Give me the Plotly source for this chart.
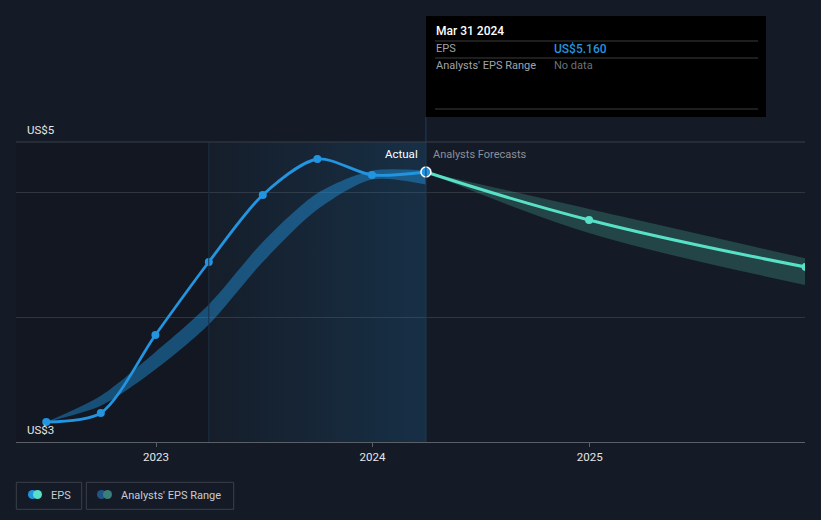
import plotly.graph_objects as go

# actual EPS (quarterly, trailing)
actual_dates = ['2022-06-30', '2022-09-30', '2022-12-31', '2023-03-31',
                '2023-06-30', '2023-09-30', '2023-12-31', '2024-03-31']
actual_eps = [3.16, 3.232, 3.856, 4.44, 4.976, 5.264, 5.136, 5.16]

# analysts' estimate range for past periods
past_range_high = [3.16, 3.37, 3.72, 4.10, 4.60, 4.99, 5.17, 5.17]
past_range_low = [3.16, 3.29, 3.58, 3.94, 4.44, 4.86, 5.10, 5.06]

# forecasts
fc_dates = ['2024-03-31', '2024-12-31', '2025-12-31']
fc_eps = [5.16, 4.776, 4.40]
fc_high = [5.16, 4.864, 4.469]
fc_low = [5.16, 4.672, 4.256]

year_ticks = ['2023-01-01', '2024-01-01', '2025-01-01']
year_labels = ['2023', '2024', '2025']

x_range = ['2022-05-10', '2025-12-30']
y_range = [3, 5.4]
last_year_start = '2023-03-31'
hover_date = '2024-03-31'

BG = '#151b26'
BLUE = '#2394df'
TEAL = '#58e1c7'
FONT = 'Roboto'

# plot area in pixels: x 16..805, y 142..442
L, R, T, B = 16, 805, 142, 442
def px(x): return (x - L) / (R - L)
def py(y): return (B - y) / (B - T)

fig = go.Figure()

# last-year highlight with gradient
fig.add_trace(go.Scatter(
    x=[last_year_start, hover_date, hover_date, last_year_start, last_year_start],
    y=[y_range[0], y_range[0], y_range[1], y_range[1], y_range[0]],
    mode='lines', line=dict(width=0), fill='toself',
    fillgradient=dict(type='horizontal',
                      colorscale=[[0, 'rgba(33,148,223,0.02)'], [1, 'rgba(33,148,223,0.17)']]),
    hoverinfo='skip', showlegend=False))

# past range band
fig.add_trace(go.Scatter(x=actual_dates, y=past_range_low, mode='lines',
                         line=dict(width=0, shape='spline', smoothing=0.8),
                         hoverinfo='skip', showlegend=False))
fig.add_trace(go.Scatter(x=actual_dates, y=past_range_high, mode='lines',
                         line=dict(width=0, shape='spline', smoothing=0.8),
                         fill='tonexty', fillcolor='rgba(33,148,223,0.45)', hoverinfo='skip', showlegend=False))

# forecast range band
fig.add_trace(go.Scatter(x=fc_dates, y=fc_low, mode='lines', line=dict(width=0, shape='spline'),
                         hoverinfo='skip', showlegend=False))
fig.add_trace(go.Scatter(x=fc_dates, y=fc_high, mode='lines', line=dict(width=0, shape='spline'),
                         fill='tonexty', fillcolor='rgba(88,225,199,0.21)', hoverinfo='skip', showlegend=False))

# EPS lines
fig.add_trace(go.Scatter(x=actual_dates, y=actual_eps, mode='lines+markers',
                         line=dict(color=BLUE, width=2.8, shape='spline', smoothing=0.8),
                         marker=dict(color=BLUE, size=8), showlegend=False))
fig.add_trace(go.Scatter(x=fc_dates, y=fc_eps, mode='lines+markers',
                         line=dict(color=TEAL, width=3, shape='spline', smoothing=1.2),
                         marker=dict(color=TEAL, size=8), showlegend=False))
fig.add_trace(go.Scatter(x=[hover_date], y=[actual_eps[-1]], mode='markers',
                         marker=dict(color=BLUE, size=10, line=dict(color='white', width=1.5)),
                         showlegend=False))

shapes = [
    # darker area before last year
    dict(type='rect', xref='x', yref='paper', x0=x_range[0], x1=last_year_start, y0=0, y1=1,
         fillcolor='rgba(0,0,0,0.12)', line=dict(width=0), layer='below'),
    dict(type='line', xref='x', yref='paper', x0=last_year_start, x1=last_year_start, y0=0, y1=1,
         line=dict(color='#1b3047', width=1)),
    dict(type='line', xref='x', yref='paper', x0=hover_date, x1=hover_date, y0=0, y1=py(117),
         line=dict(color='#1f3a56', width=1)),
    # top border line
    dict(type='line', xref='paper', yref='paper', x0=0, x1=1, y0=1, y1=1,
         line=dict(color='#3a3f48', width=1)),
    # tooltip box
    dict(type='rect', xref='paper', yref='paper', x0=px(426), x1=px(766), y0=py(117), y1=py(16),
         fillcolor='#000000', line=dict(width=0)),
]
for yy in (41, 58, 109):
    shapes.append(dict(type='line', xref='paper', yref='paper', x0=px(435), x1=px(758), y0=py(yy), y1=py(yy),
                       line=dict(color='#3d3d3d', width=1)))

# legend boxes
for x0, x1 in ((16.3, 81.7), (86.3, 233.7)):
    shapes.append(dict(type='rect', xref='paper', yref='paper', x0=px(x0), x1=px(x1), y0=py(509.3), y1=py(482.3),
                       line=dict(color='#3a3f49', width=1), fillcolor='rgba(0,0,0,0)'))
for cx, col in ((32.5, BLUE), (37.5, TEAL), (101.5, '#1e5586'), (107.5, '#3a7f79')):
    shapes.append(dict(type='circle', xref='paper', yref='paper', xsizemode='pixel', ysizemode='pixel',
                       xanchor=px(cx), yanchor=py(494.5), x0=-4.5, x1=4.5, y0=-4.5, y1=4.5,
                       fillcolor=col, line=dict(width=0)))

def txt(x, y, text, color, size=11.5, anchor='left', xref='paper', xshift=0, weight='normal'):
    return dict(x=x, y=y, xref=xref, yref='paper', text=text, showarrow=False, xanchor=anchor, yanchor='middle',
                xshift=xshift, font=dict(family=FONT, size=size, color=color, weight=weight))

annotations = [
    txt(px(25), py(130), 'US$5', '#e6e6e6'),
    txt(px(25), py(430), 'US$3', '#e6e6e6'),
    txt(hover_date, py(154), 'Actual', '#ffffff', anchor='right', xref='x', xshift=-6),
    txt(hover_date, py(154), 'Analysts Forecasts', '#8a9099', anchor='left', xref='x', xshift=5, size=11),
    txt(px(434), py(31), 'Mar 31 2024', '#ffffff', size=12, weight=500),
    txt(px(434), py(49), 'EPS', '#a0a4aa', size=11),
    txt(px(552), py(49), 'US$5.160', BLUE, size=12, weight=500),
    txt(px(434), py(66), "Analysts' EPS Range", '#a0a4aa', size=11),
    txt(px(552), py(66), 'No data', '#6c7077', size=11),
    txt(px(49), py(495), 'EPS', '#c8ccd2', size=11),
    txt(px(119), py(495), "Analysts' EPS Range", '#c8ccd2', size=11),
]

fig.update_layout(
    width=821, height=520,
    margin=dict(l=L, r=821 - R, t=T, b=520 - B),
    paper_bgcolor=BG, plot_bgcolor=BG,
    font=dict(family=FONT, size=12, color='#e6e6e6'),
    showlegend=False,
    shapes=shapes, annotations=annotations,
    xaxis=dict(type='date', range=x_range, tickvals=year_ticks, ticktext=year_labels,
               showgrid=False, showline=True, linecolor='#5a5f68', linewidth=1,
               ticks='outside', ticklen=4, tickcolor='#5a5f68',
               tickfont=dict(family=FONT, size=11.5, color='#e6e6e6'), zeroline=False),
    yaxis=dict(range=y_range, tickvals=[4, 5], showticklabels=False, showgrid=True,
               gridcolor='#30353e', gridwidth=1, zeroline=False, showline=False),
)

# drop the default page margin so the figure fills the window
fig.write_html("out.html", config={'displayModeBar': False},
               post_script="document.body.style.margin='0';")
